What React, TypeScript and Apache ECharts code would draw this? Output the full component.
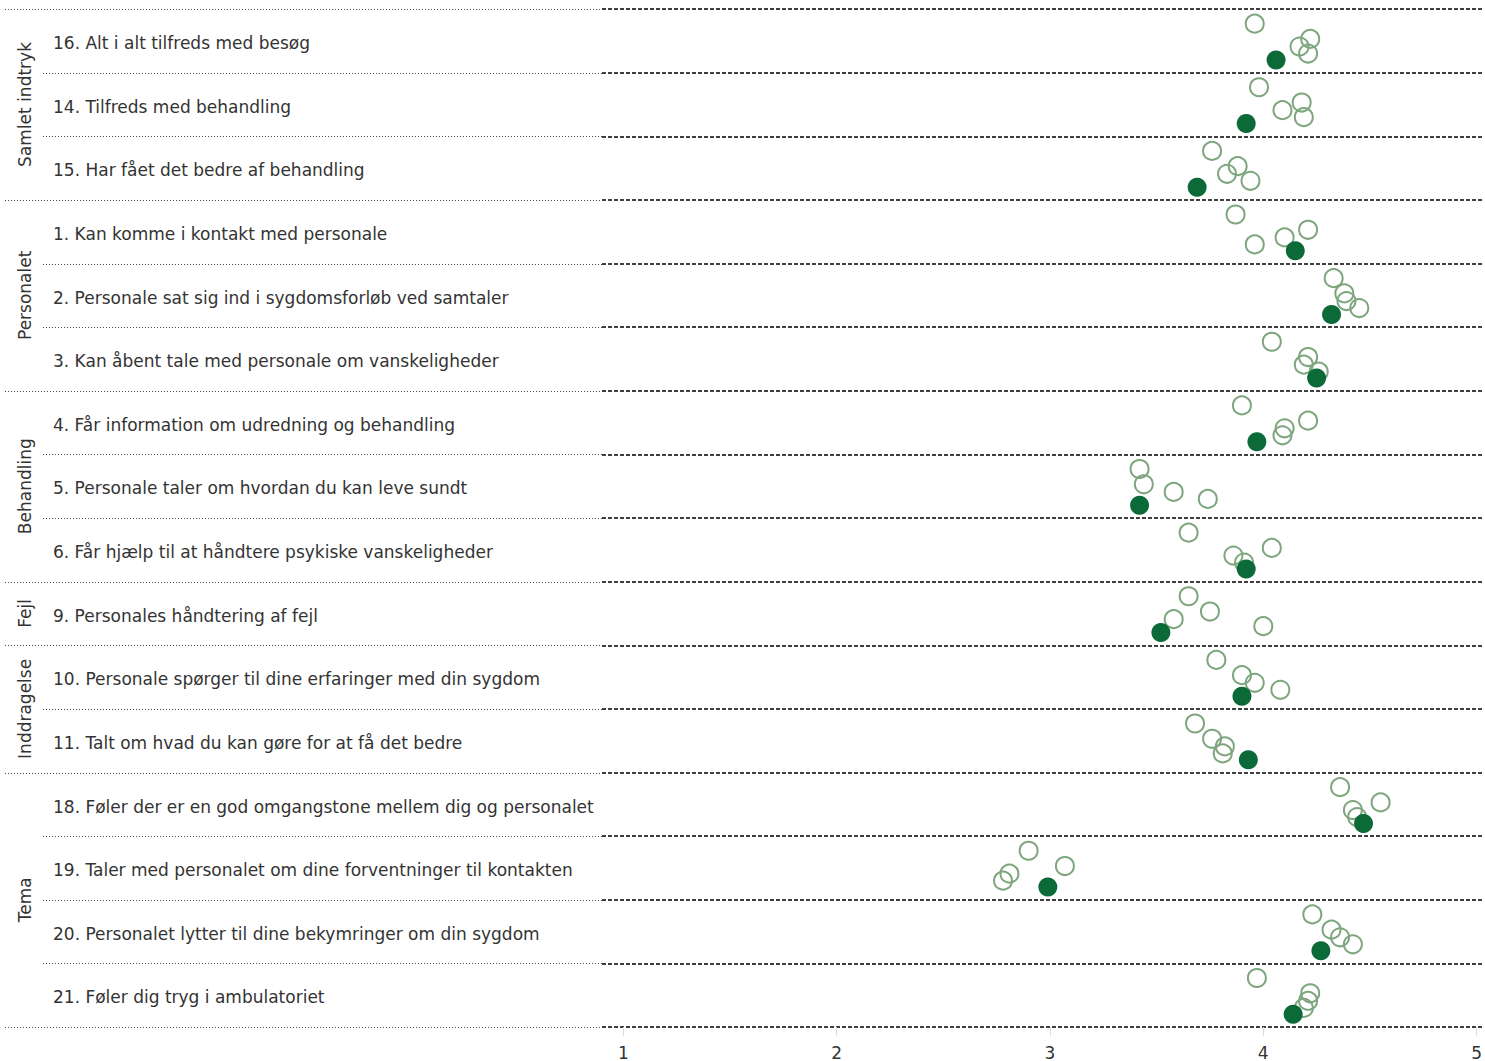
import React, { useEffect, useRef } from "react";
import * as echarts from "echarts";

const rowLabels = [
  "16. Alt i alt tilfreds med besøg",
  "14. Tilfreds med behandling",
  "15. Har fået det bedre af behandling",
  "1. Kan komme i kontakt med personale",
  "2. Personale sat sig ind i sygdomsforløb ved samtaler",
  "3. Kan åbent tale med personale om vanskeligheder",
  "4. Får information om udredning og behandling",
  "5. Personale taler om hvordan du kan leve sundt",
  "6. Får hjælp til at håndtere psykiske vanskeligheder",
  "9. Personales håndtering af fejl",
  "10. Personale spørger til dine erfaringer med din sygdom",
  "11. Talt om hvad du kan gøre for at få det bedre",
  "18. Føler der er en god omgangstone mellem dig og personalet",
  "19. Taler med personalet om dine forventninger til kontakten",
  "20. Personalet lytter til dine bekymringer om din sygdom",
  "21. Føler dig tryg i ambulatoriet",
];

const groupNames = ["Samlet indtryk", "Personalet", "Behandling", "Fejl", "Inddragelse", "Tema"];
const groupSizes = [3, 3, 3, 1, 2, 4];

const xTicks = [1, 2, 3, 4, 5];

// four earlier measurements (open circles) and the current one (filled)
const open1 = [3.96, 3.98, 3.76, 3.87, 4.33, 4.04, 3.9, 3.42, 3.65, 3.65, 3.78, 3.68, 4.36, 2.9, 4.23, 3.97];
const open2 = [4.22, 4.18, 3.88, 4.21, 4.38, 4.21, 4.21, 3.44, 4.04, 3.75, 3.9, 3.76, 4.55, 3.07, 4.32, 4.22];
const open3 = [4.17, 4.09, 3.83, 4.1, 4.39, 4.19, 4.1, 3.58, 3.86, 3.58, 3.96, 3.82, 4.42, 2.81, 4.36, 4.21];
const open4 = [4.21, 4.19, 3.94, 3.96, 4.45, 4.26, 4.09, 3.74, 3.91, 4.0, 4.08, 3.81, 4.44, 2.78, 4.42, 4.19];
const current = [4.06, 3.92, 3.69, 4.15, 4.32, 4.25, 3.97, 3.42, 3.92, 3.52, 3.9, 3.93, 4.47, 2.99, 4.27, 4.14];

const OPEN_COLOR = "#7ea67e";
const FILLED_COLOR = "#0b6a37";
const TEXT_COLOR = "#333333";
const FONT = "'DejaVu Sans', Verdana, sans-serif";
const GRID_LEFT = 602;
const rowOffsets = [0.23, 0.47, 0.59, 0.7, 0.8];

export default function App() {
  const ref = useRef<HTMLDivElement>(null);

  useEffect(() => {
    const chart = echarts.init(ref.current as HTMLDivElement, null, { renderer: "svg" });
    const openSets = [open1, open2, open3, open4];
    const series: any[] = openSets.map((vals, k) => ({
      type: "scatter",
      name: "Tidligere " + (k + 1),
      data: vals.map((v, i) => [v, i + rowOffsets[k]]),
      symbol: "circle",
      symbolSize: 18,
      itemStyle: { color: "rgba(0,0,0,0)", borderColor: OPEN_COLOR, borderWidth: 2, opacity: 1 },
      z: 2 + k,
      silent: true,
    }));
    series.push({
      type: "scatter",
      name: "Aktuel",
      data: current.map((v, i) => [v, i + rowOffsets[4]]),
      symbol: "circle",
      symbolSize: 19,
      itemStyle: { color: FILLED_COLOR, opacity: 1 },
      z: 10,
      silent: true,
    });

    chart.setOption({
      animation: false,
      grid: { left: GRID_LEFT, right: 0, top: 9, bottom: 33, containLabel: false },
      xAxis: {
        type: "value",
        position: "bottom",
        min: 0.9,
        max: 5.033,
        axisLine: { show: false, onZero: false },
        splitLine: { show: false },
        axisTick: { show: true, customValues: xTicks, length: 9, lineStyle: { color: "#dddddd", width: 1 } },
        axisLabel: {
          customValues: xTicks,
          margin: 17,
          fontSize: 17,
          color: TEXT_COLOR,
          fontFamily: FONT,
        },
      },
      yAxis: {
        type: "value",
        min: 0,
        max: rowLabels.length,
        interval: 1,
        inverse: true,
        axisLine: { show: false, onZero: false },
        axisTick: { show: false },
        splitLine: { show: true, lineStyle: { color: "#000000", type: [4, 2], width: 1.5 } },
        axisLabel: {
          customValues: rowLabels.map((_, i) => i + 0.535),
          formatter: (v: number) => rowLabels[Math.floor(v)] ?? "",
          align: "left",
          margin: GRID_LEFT - 53,
          fontSize: 17,
          color: TEXT_COLOR,
          fontFamily: FONT,
        },
      },
      series,
    });

    const yPix = (v: number) => chart.convertToPixel({ yAxisIndex: 0 }, v) as number;
    const boundaries = new Set<number>([0]);
    let acc = 0;
    const groupCenters: number[] = [];
    groupSizes.forEach((s) => {
      groupCenters.push(acc + s / 2);
      acc += s;
      boundaries.add(acc);
    });

    const graphics: any[] = [];
    for (let b = 0; b <= rowLabels.length; b++) {
      const y = Math.round(yPix(b)) + 0.5;
      const isGroup = boundaries.has(b);
      graphics.push({
        type: "line",
        silent: true,
        shape: { x1: isGroup ? 5 : 43, y1: y, x2: GRID_LEFT, y2: y },
        style: { stroke: "#444444", lineWidth: 1, lineDash: [1, 2] },
      });
    }
    groupNames.forEach((name, g) => {
      graphics.push({
        type: "text",
        silent: true,
        x: 25,
        y: yPix(groupCenters[g]),
        rotation: Math.PI / 2,
        style: {
          text: name,
          fontSize: 17,
          fontFamily: FONT,
          fill: TEXT_COLOR,
          textAlign: "center",
          textVerticalAlign: "middle",
        },
      });
    });
    chart.setOption({ graphic: graphics });

    return () => chart.dispose();
  }, []);

  return (
    <div
      ref={ref}
      style={{ position: "fixed", left: 0, top: 0, width: 1485, height: 1061, background: "#ffffff" }}
    />
  );
}
